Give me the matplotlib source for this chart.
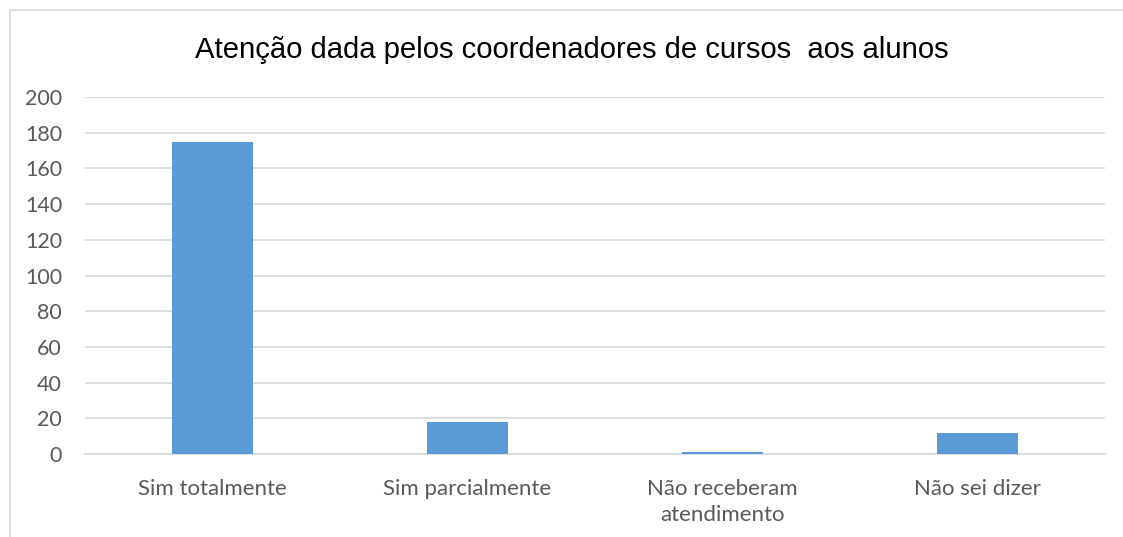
import matplotlib
matplotlib.use("Agg")
import matplotlib.pyplot as plt
from matplotlib.lines import Line2D

categories = ["Sim totalmente", "Sim parcialmente", "Não receberam\natendimento", "Não sei dizer"]
values = [175, 18, 1, 12]
yticks = [0, 20, 40, 60, 80, 100, 120, 140, 160, 180, 200]
title = "Atenção dada pelos coordenadores de cursos  aos alunos"

fig = plt.figure(figsize=(11.23, 5.37), dpi=100)
ax = fig.add_axes([85/1123, 1-454/537, (1105-85)/1123, (454-97)/537])

x = list(range(len(categories)))
ax.bar(x, values, width=0.314, color="#5B9BD5", zorder=3)
ax.set_xlim(-0.5, len(categories) - 0.5)
ax.set_ylim(0, 200)
ax.set_yticks(yticks)
ax.set_xticks(x)
ax.set_xticklabels(categories, fontfamily="Lato", fontsize=16, color="#595959", linespacing=1.4)
ax.set_yticklabels([str(t) for t in yticks], fontfamily="Lato", fontsize=15.5, color="#595959")
ax.tick_params(axis="both", length=0)
ax.tick_params(axis="x", pad=18)
ax.tick_params(axis="y", pad=16.5)
ax.grid(axis="y", color="#D9D9D9", linewidth=1.2, zorder=0)
for s in ["top", "right", "left"]:
    ax.spines[s].set_visible(False)
ax.spines["bottom"].set_color("#D9D9D9")
ax.spines["bottom"].set_linewidth(1.2)

fig.text(572/1123, 1-50/537, title, ha="center", va="center", fontfamily="Liberation Sans", fontsize=21.1, color="#000000")

# chart frame
fig.add_artist(Line2D([9.5/1123, 1], [1-10/537, 1-10/537], color="#D9D9D9", linewidth=1.2, transform=fig.transFigure))
fig.add_artist(Line2D([9.5/1123, 9.5/1123], [0, 1-10/537], color="#D9D9D9", linewidth=1.2, transform=fig.transFigure))

fig.savefig("out.png", dpi=100)
